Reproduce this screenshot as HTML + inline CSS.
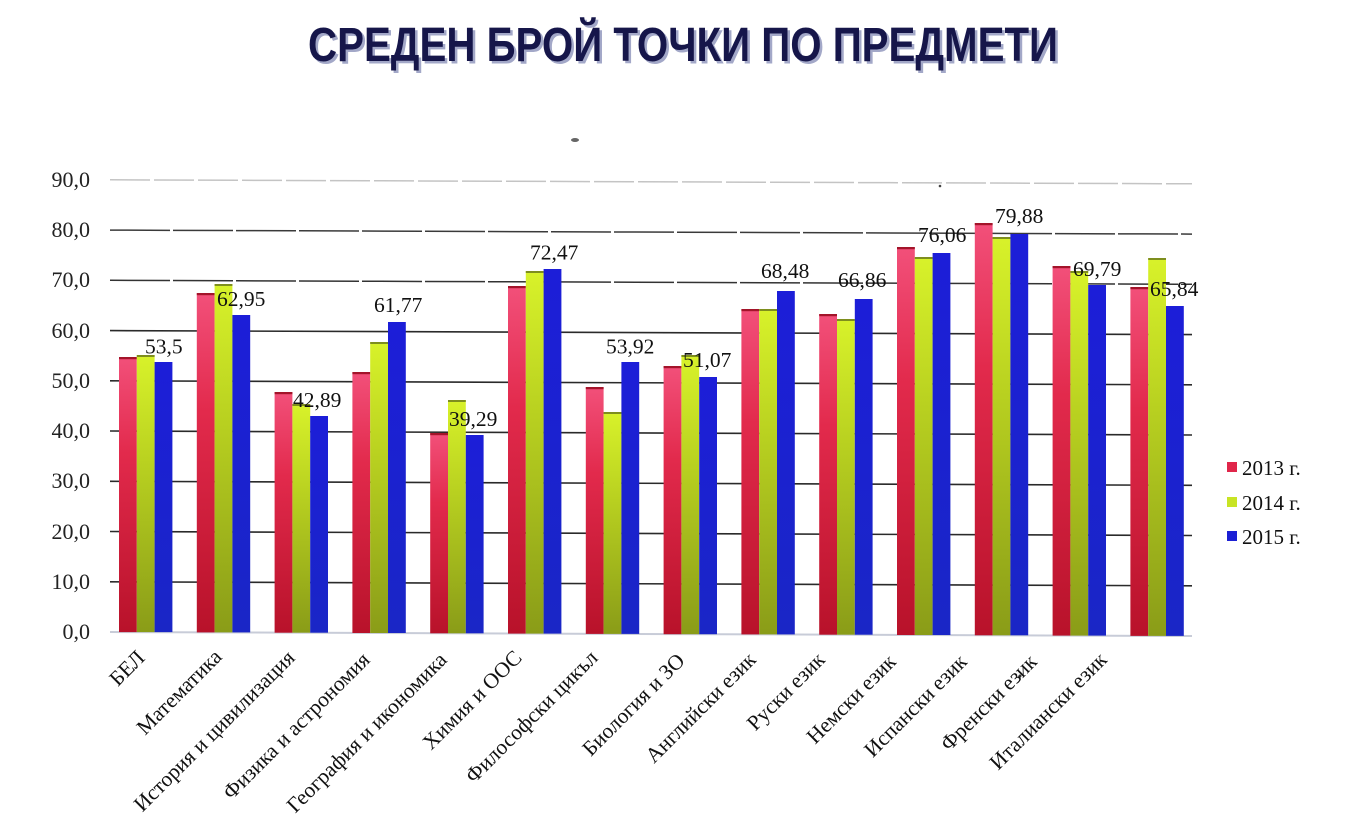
<!DOCTYPE html>
<html>
<head>
<meta charset="utf-8">
<style>
html,body{margin:0;padding:0;background:#fff;}
body{width:1358px;height:834px;overflow:hidden;}
svg{display:block;}
.tk{font-family:"Liberation Serif","DejaVu Serif",serif;font-size:22px;fill:#222;}
.dl{font-family:"Liberation Serif","DejaVu Serif",serif;font-size:21.5px;fill:#111;}
.cat{font-family:"Liberation Serif","DejaVu Serif",serif;font-size:21.5px;fill:#111;}
.lg{font-family:"Liberation Serif","DejaVu Serif",serif;font-size:21px;fill:#111;}
</style>
</head>
<body>
<svg width="1358" height="834" viewBox="0 0 1358 834" xmlns="http://www.w3.org/2000/svg">
<defs>
<linearGradient id="gr" x1="0" y1="0" x2="0" y2="1">
<stop offset="0" stop-color="#f2507a"/>
<stop offset="0.35" stop-color="#e22a4c"/>
<stop offset="1" stop-color="#b8122a"/>
</linearGradient>
<linearGradient id="gg" x1="0" y1="0" x2="0" y2="1">
<stop offset="0" stop-color="#d8f22a"/>
<stop offset="0.4" stop-color="#b8d020"/>
<stop offset="1" stop-color="#8a9c18"/>
</linearGradient>
<linearGradient id="gb" x1="0" y1="0" x2="0" y2="1">
<stop offset="0" stop-color="#1c1ed8"/>
<stop offset="1" stop-color="#1a26c6"/>
</linearGradient>
</defs>

<!-- Title -->
<text x="310.5" y="63.5" font-family="Liberation Sans, DejaVu Sans, sans-serif" font-weight="bold" font-size="48" fill="#a3a8c8" textLength="750" lengthAdjust="spacingAndGlyphs">СРЕДЕН БРОЙ ТОЧКИ ПО ПРЕДМЕТИ</text>
<text x="308" y="61" font-family="Liberation Sans, DejaVu Sans, sans-serif" font-weight="bold" font-size="48" fill="#16164a" textLength="750" lengthAdjust="spacingAndGlyphs">СРЕДЕН БРОЙ ТОЧКИ ПО ПРЕДМЕТИ</text>

<!-- artifacts -->
<ellipse cx="575" cy="140" rx="4" ry="2" fill="#666"/>
<circle cx="940" cy="186" r="1.3" fill="#444"/>
<circle cx="1020" cy="676" r="1.5" fill="#333"/>

<!-- Gridlines -->
<line x1="110" y1="179.8" x2="1192" y2="183.8" stroke="#c4c4c4" stroke-width="1.5" stroke-dasharray="40 4"/>
<line x1="110" y1="230.1" x2="1192" y2="234.1" stroke="#3a3a3a" stroke-width="1.5" stroke-dasharray="60 3"/>
<line x1="110" y1="280.3" x2="1192" y2="284.3" stroke="#333" stroke-width="1.5" stroke-dasharray="60 3"/>
<line x1="110" y1="330.6" x2="1192" y2="334.6" stroke="#2a2a2a" stroke-width="1.6"/>
<line x1="110" y1="380.8" x2="1192" y2="384.8" stroke="#2a2a2a" stroke-width="1.6"/>
<line x1="110" y1="431" x2="1192" y2="435" stroke="#2a2a2a" stroke-width="1.6"/>
<line x1="110" y1="481.3" x2="1192" y2="485.3" stroke="#2a2a2a" stroke-width="1.6"/>
<line x1="110" y1="531.5" x2="1192" y2="535.5" stroke="#2a2a2a" stroke-width="1.6"/>
<line x1="110" y1="581.8" x2="1192" y2="585.8" stroke="#2a2a2a" stroke-width="1.6"/>
<line x1="110" y1="632" x2="1192" y2="636" stroke="#c8ccd8" stroke-width="2"/>

<!-- Y tick labels -->
<text class="tk" x="90" y="187" text-anchor="end">90,0</text>
<text class="tk" x="90" y="237" text-anchor="end">80,0</text>
<text class="tk" x="90" y="287" text-anchor="end">70,0</text>
<text class="tk" x="90" y="338" text-anchor="end">60,0</text>
<text class="tk" x="90" y="388" text-anchor="end">50,0</text>
<text class="tk" x="90" y="438" text-anchor="end">40,0</text>
<text class="tk" x="90" y="488" text-anchor="end">30,0</text>
<text class="tk" x="90" y="539" text-anchor="end">20,0</text>
<text class="tk" x="90" y="589" text-anchor="end">10,0</text>
<text class="tk" x="90" y="639" text-anchor="end">0,0</text>

<!-- Bars: red -->
<g fill="url(#gr)">
<rect x="119" y="357" width="17.8" height="275.1"/>
<rect x="196.8" y="293" width="17.8" height="339.4"/>
<rect x="274.6" y="392" width="17.8" height="240.7"/>
<rect x="352.4" y="372" width="17.8" height="261"/>
<rect x="430.2" y="433" width="17.8" height="200.3"/>
<rect x="508" y="286" width="17.8" height="347.6"/>
<rect x="585.8" y="387" width="17.8" height="246.9"/>
<rect x="663.6" y="366" width="17.8" height="268.2"/>
<rect x="741.4" y="309" width="17.8" height="325.4"/>
<rect x="819.2" y="314" width="17.8" height="320.7"/>
<rect x="897" y="247" width="17.8" height="388"/>
<rect x="974.8" y="223" width="17.8" height="412.3"/>
<rect x="1052.6" y="266" width="17.8" height="369.6"/>
<rect x="1130.4" y="287" width="17.8" height="348.9"/>
</g>
<g fill="#a3142a">
<rect x="119" y="357" width="17.8" height="2.2"/>
<rect x="196.8" y="293" width="17.8" height="2.2"/>
<rect x="274.6" y="392" width="17.8" height="2.2"/>
<rect x="352.4" y="372" width="17.8" height="2.2"/>
<rect x="430.2" y="433" width="17.8" height="2.2"/>
<rect x="508" y="286" width="17.8" height="2.2"/>
<rect x="585.8" y="387" width="17.8" height="2.2"/>
<rect x="663.6" y="366" width="17.8" height="2.2"/>
<rect x="741.4" y="309" width="17.8" height="2.2"/>
<rect x="819.2" y="314" width="17.8" height="2.2"/>
<rect x="897" y="247" width="17.8" height="2.2"/>
<rect x="974.8" y="223" width="17.8" height="2.2"/>
<rect x="1052.6" y="266" width="17.8" height="2.2"/>
<rect x="1130.4" y="287" width="17.8" height="2.2"/>
</g>

<!-- Bars: green -->
<g fill="url(#gg)">
<rect x="136.8" y="355" width="17.8" height="277.1"/>
<rect x="214.6" y="284" width="17.8" height="348.4"/>
<rect x="292.4" y="404" width="17.8" height="228.7"/>
<rect x="370.2" y="342" width="17.8" height="291"/>
<rect x="448" y="400" width="17.8" height="233.3"/>
<rect x="525.8" y="271" width="17.8" height="362.6"/>
<rect x="603.6" y="412" width="17.8" height="221.9"/>
<rect x="681.4" y="355" width="17.8" height="279.2"/>
<rect x="759.2" y="309" width="17.8" height="325.4"/>
<rect x="837" y="319" width="17.8" height="315.7"/>
<rect x="914.8" y="257" width="17.8" height="378"/>
<rect x="992.6" y="237" width="17.8" height="398.3"/>
<rect x="1070.4" y="271" width="17.8" height="364.6"/>
<rect x="1148.2" y="258" width="17.8" height="377.9"/>
</g>
<g fill="#7e8e1e">
<rect x="136.8" y="355" width="17.8" height="2"/>
<rect x="214.6" y="284" width="17.8" height="2"/>
<rect x="292.4" y="404" width="17.8" height="2"/>
<rect x="370.2" y="342" width="17.8" height="2"/>
<rect x="448" y="400" width="17.8" height="2"/>
<rect x="525.8" y="271" width="17.8" height="2"/>
<rect x="603.6" y="412" width="17.8" height="2"/>
<rect x="681.4" y="355" width="17.8" height="2"/>
<rect x="759.2" y="309" width="17.8" height="2"/>
<rect x="837" y="319" width="17.8" height="2"/>
<rect x="914.8" y="257" width="17.8" height="2"/>
<rect x="992.6" y="237" width="17.8" height="2"/>
<rect x="1070.4" y="271" width="17.8" height="2"/>
<rect x="1148.2" y="258" width="17.8" height="2"/>
</g>

<!-- Bars: blue -->
<g fill="url(#gb)">
<rect x="154.6" y="362" width="17.8" height="270.1"/>
<rect x="232.4" y="315" width="17.8" height="317.4"/>
<rect x="310.2" y="416" width="17.8" height="216.7"/>
<rect x="388" y="322" width="17.8" height="311"/>
<rect x="465.8" y="435" width="17.8" height="198.3"/>
<rect x="543.6" y="269" width="17.8" height="364.6"/>
<rect x="621.4" y="362" width="17.8" height="271.9"/>
<rect x="699.2" y="377" width="17.8" height="257.2"/>
<rect x="777" y="291" width="17.8" height="343.4"/>
<rect x="854.8" y="299" width="17.8" height="335.7"/>
<rect x="932.6" y="253" width="17.8" height="382"/>
<rect x="1010.4" y="234" width="17.8" height="401.3"/>
<rect x="1088.2" y="285" width="17.8" height="350.6"/>
<rect x="1166" y="306" width="17.8" height="329.9"/>
</g>

<!-- Data labels -->
<text class="dl" x="145" y="353.5">53,5</text>
<text class="dl" x="217" y="306">62,95</text>
<text class="dl" x="293" y="407">42,89</text>
<text class="dl" x="374" y="312">61,77</text>
<text class="dl" x="449" y="426">39,29</text>
<text class="dl" x="530" y="259.5">72,47</text>
<text class="dl" x="606" y="353.5">53,92</text>
<text class="dl" x="683" y="367">51,07</text>
<text class="dl" x="761" y="278">68,48</text>
<text class="dl" x="838" y="287">66,86</text>
<text class="dl" x="918" y="242">76,06</text>
<text class="dl" x="995" y="223">79,88</text>
<text class="dl" x="1073" y="276">69,79</text>
<text class="dl" x="1150" y="296">65,84</text>

<!-- Category labels -->
<text class="cat" text-anchor="end" transform="translate(146,659) rotate(-45)">БЕЛ</text>
<text class="cat" text-anchor="end" transform="translate(223,658) rotate(-45)">Математика</text>
<text class="cat" text-anchor="end" transform="translate(296,659) rotate(-45)">История и цивилизация</text>
<text class="cat" text-anchor="end" transform="translate(371,661) rotate(-45)">Физика и астрономия</text>
<text class="cat" text-anchor="end" transform="translate(448,661) rotate(-45)">География и икономика</text>
<text class="cat" text-anchor="end" transform="translate(523,659) rotate(-45)">Химия и ООС</text>
<text class="cat" text-anchor="end" transform="translate(599,659) rotate(-45)">Философски цикъл</text>
<text class="cat" text-anchor="end" transform="translate(686,662) rotate(-45)">Биология и ЗО</text>
<text class="cat" text-anchor="end" transform="translate(757,661) rotate(-45)">Английски език</text>
<text class="cat" text-anchor="end" transform="translate(826,661) rotate(-45)">Руски език</text>
<text class="cat" text-anchor="end" transform="translate(897,663) rotate(-45)">Немски език</text>
<text class="cat" text-anchor="end" transform="translate(968,663) rotate(-45)">Испански език</text>
<text class="cat" text-anchor="end" transform="translate(1038,663) rotate(-45)">Френски език</text>
<text class="cat" text-anchor="end" transform="translate(1108,661) rotate(-45)">Италиански език</text>

<!-- Legend -->
<rect x="1227" y="462" width="10" height="10" fill="#e0264a"/>
<rect x="1227" y="497" width="10" height="10" fill="#c8e424"/>
<rect x="1227" y="531" width="10" height="10" fill="#1c20d4"/>
<text class="lg" x="1242" y="475">2013 г.</text>
<text class="lg" x="1242" y="510">2014 г.</text>
<text class="lg" x="1242" y="544">2015 г.</text>
</svg>
</body>
</html>
